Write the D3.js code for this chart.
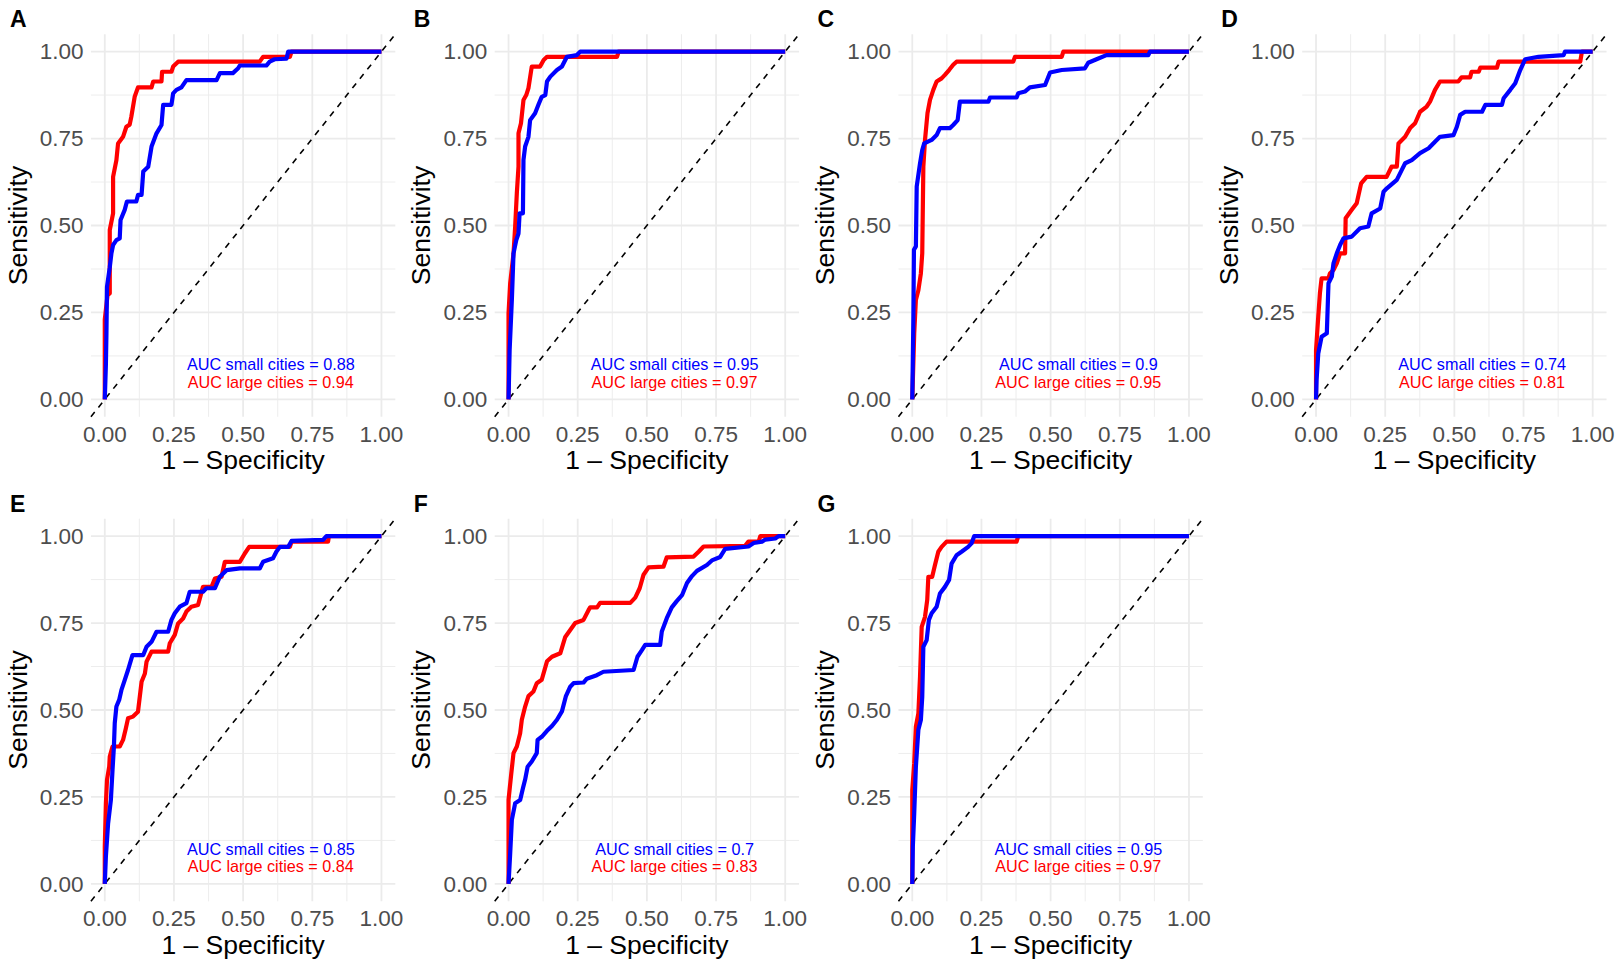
<!DOCTYPE html>
<html>
<head>
<meta charset="utf-8">
<script src="https://cdn.jsdelivr.net/npm/d3@7"></script>
<style>
body { margin: 0; background: #fff; }
text { font-family: "Liberation Sans", Arial, Helvetica, sans-serif; }
</style>
</head>
<body>
<div id="chart"></div>
<script>
// panel letters and AUC labels
var panelLetters = ["A", "B", "C", "D", "E", "F", "G"];
var aucSmall = ["0.88", "0.95", "0.9", "0.74", "0.85", "0.7", "0.95"];
var aucLarge = ["0.94", "0.97", "0.95", "0.81", "0.84", "0.83", "0.97"];
var tickValues = [0, 0.25, 0.5, 0.75, 1];
var tickLabels = ["0.00", "0.25", "0.50", "0.75", "1.00"];
var minorValues = [0.125, 0.375, 0.625, 0.875];

// ROC points: [1 - specificity, sensitivity]
var smallA = [[0,0],[0.004,0.1],[0.006,0.19],[0.008,0.324],[0.018,0.38],[0.024,0.42],[0.03,0.444],[0.042,0.458],[0.054,0.463],[0.057,0.516],[0.072,0.545],[0.08,0.569],[0.114,0.569],[0.12,0.588],[0.133,0.588],[0.139,0.655],[0.157,0.669],[0.169,0.727],[0.187,0.765],[0.205,0.789],[0.211,0.847],[0.241,0.847],[0.247,0.88],[0.259,0.89],[0.277,0.897],[0.295,0.918],[0.404,0.918],[0.416,0.938],[0.463,0.938],[0.482,0.952],[0.488,0.96],[0.584,0.96],[0.596,0.971],[0.614,0.978],[0.657,0.98],[0.663,1],[1,1]];
var largeA = [[0,0],[0,0.23],[0.01,0.3],[0.018,0.305],[0.018,0.487],[0.03,0.535],[0.03,0.64],[0.042,0.688],[0.048,0.736],[0.066,0.755],[0.078,0.784],[0.09,0.79],[0.096,0.813],[0.108,0.87],[0.12,0.897],[0.169,0.897],[0.175,0.914],[0.205,0.914],[0.207,0.942],[0.241,0.942],[0.247,0.957],[0.265,0.971],[0.56,0.971],[0.572,0.985],[0.669,0.985],[0.675,1],[1,1]];

var smallB = [[0,0],[0.004,0.142],[0.012,0.286],[0.018,0.42],[0.028,0.458],[0.036,0.477],[0.04,0.535],[0.052,0.535],[0.054,0.688],[0.06,0.727],[0.072,0.755],[0.078,0.803],[0.096,0.823],[0.108,0.847],[0.12,0.87],[0.133,0.875],[0.139,0.914],[0.151,0.928],[0.175,0.947],[0.193,0.957],[0.211,0.985],[0.247,0.99],[0.259,1],[1,1]];
var largeB = [[0,0],[0,0.247],[0.006,0.334],[0.018,0.42],[0.024,0.497],[0.03,0.593],[0.036,0.669],[0.036,0.765],[0.045,0.794],[0.054,0.861],[0.064,0.875],[0.072,0.895],[0.084,0.957],[0.114,0.957],[0.127,0.976],[0.139,0.985],[0.392,0.985],[0.398,1],[1,1]];

var smallC = [[0,0],[0.004,0.238],[0.006,0.43],[0.013,0.44],[0.016,0.612],[0.028,0.679],[0.036,0.717],[0.043,0.736],[0.07,0.746],[0.088,0.76],[0.1,0.78],[0.136,0.78],[0.148,0.789],[0.164,0.803],[0.172,0.856],[0.275,0.856],[0.281,0.868],[0.377,0.868],[0.383,0.88],[0.407,0.885],[0.425,0.897],[0.48,0.904],[0.498,0.94],[0.54,0.947],[0.624,0.952],[0.636,0.968],[0.666,0.978],[0.702,0.99],[0.853,0.99],[0.859,1],[1,1]];
var largeC = [[0,0],[0.007,0.19],[0.013,0.286],[0.022,0.314],[0.031,0.362],[0.036,0.42],[0.04,0.669],[0.046,0.746],[0.055,0.823],[0.064,0.861],[0.076,0.89],[0.088,0.914],[0.106,0.923],[0.118,0.933],[0.133,0.947],[0.148,0.962],[0.16,0.971],[0.365,0.971],[0.371,0.985],[0.54,0.985],[0.546,1],[1,1]];

var smallD = [[0,0],[0.002,0.056],[0.008,0.132],[0.02,0.18],[0.039,0.19],[0.045,0.334],[0.057,0.353],[0.063,0.391],[0.075,0.42],[0.087,0.444],[0.099,0.463],[0.129,0.468],[0.159,0.492],[0.189,0.497],[0.201,0.535],[0.232,0.549],[0.244,0.597],[0.256,0.607],[0.292,0.631],[0.31,0.66],[0.322,0.679],[0.346,0.688],[0.376,0.708],[0.407,0.722],[0.43,0.741],[0.448,0.755],[0.497,0.76],[0.509,0.784],[0.521,0.818],[0.539,0.827],[0.6,0.827],[0.612,0.847],[0.672,0.847],[0.678,0.866],[0.702,0.89],[0.72,0.909],[0.738,0.947],[0.756,0.978],[0.804,0.985],[0.895,0.99],[0.9,1],[1,1]];
var largeD = [[0,0],[0,0.142],[0.008,0.238],[0.014,0.305],[0.02,0.348],[0.045,0.348],[0.05,0.362],[0.063,0.372],[0.075,0.391],[0.087,0.42],[0.105,0.42],[0.107,0.521],[0.129,0.545],[0.147,0.564],[0.163,0.621],[0.183,0.64],[0.255,0.64],[0.273,0.669],[0.292,0.669],[0.298,0.736],[0.322,0.755],[0.34,0.78],[0.358,0.794],[0.376,0.827],[0.4,0.842],[0.412,0.856],[0.43,0.89],[0.448,0.914],[0.514,0.914],[0.526,0.926],[0.557,0.926],[0.562,0.942],[0.588,0.942],[0.594,0.954],[0.654,0.954],[0.66,0.971],[0.955,0.971],[0.961,1],[1,1]];

var smallE = [[0,0],[0.004,0.079],[0.012,0.174],[0.022,0.241],[0.028,0.328],[0.033,0.395],[0.036,0.462],[0.042,0.51],[0.052,0.529],[0.06,0.557],[0.072,0.586],[0.084,0.615],[0.1,0.658],[0.139,0.658],[0.151,0.682],[0.169,0.696],[0.187,0.725],[0.229,0.725],[0.241,0.759],[0.253,0.778],[0.271,0.797],[0.295,0.807],[0.307,0.84],[0.355,0.84],[0.367,0.85],[0.398,0.85],[0.416,0.883],[0.44,0.902],[0.488,0.907],[0.56,0.907],[0.572,0.926],[0.608,0.936],[0.62,0.955],[0.633,0.969],[0.663,0.969],[0.675,0.986],[0.789,0.989],[0.801,1],[1,1]];
var largeE = [[0,0],[0,0.107],[0.004,0.232],[0.008,0.299],[0.016,0.337],[0.018,0.366],[0.028,0.395],[0.054,0.395],[0.066,0.414],[0.076,0.447],[0.084,0.476],[0.102,0.481],[0.12,0.495],[0.133,0.581],[0.145,0.605],[0.151,0.639],[0.169,0.668],[0.229,0.668],[0.235,0.692],[0.253,0.716],[0.265,0.749],[0.283,0.763],[0.295,0.783],[0.313,0.797],[0.337,0.802],[0.355,0.854],[0.386,0.854],[0.398,0.878],[0.422,0.883],[0.434,0.926],[0.488,0.926],[0.506,0.95],[0.522,0.969],[0.669,0.969],[0.675,0.984],[0.807,0.984],[0.81,1],[1,1]];

var smallF = [[0,0],[0.006,0.088],[0.012,0.184],[0.024,0.232],[0.042,0.241],[0.052,0.275],[0.06,0.3],[0.069,0.337],[0.084,0.352],[0.102,0.376],[0.105,0.414],[0.12,0.423],[0.139,0.44],[0.157,0.454],[0.175,0.472],[0.193,0.496],[0.207,0.539],[0.223,0.567],[0.235,0.577],[0.271,0.579],[0.283,0.59],[0.319,0.6],[0.343,0.61],[0.452,0.615],[0.466,0.653],[0.482,0.672],[0.494,0.687],[0.548,0.687],[0.554,0.726],[0.572,0.764],[0.59,0.795],[0.608,0.813],[0.627,0.83],[0.645,0.865],[0.663,0.885],[0.681,0.9],[0.717,0.917],[0.735,0.93],[0.765,0.94],[0.783,0.963],[0.867,0.97],[0.886,0.98],[0.916,0.984],[0.928,0.99],[0.964,0.993],[0.976,1],[1,1]];
var largeF = [[0,0],[0,0.242],[0.01,0.318],[0.018,0.376],[0.03,0.395],[0.042,0.433],[0.048,0.472],[0.06,0.51],[0.072,0.54],[0.09,0.553],[0.102,0.577],[0.12,0.587],[0.139,0.64],[0.157,0.653],[0.187,0.663],[0.205,0.71],[0.223,0.73],[0.241,0.75],[0.271,0.759],[0.289,0.787],[0.295,0.795],[0.32,0.795],[0.331,0.808],[0.44,0.808],[0.458,0.823],[0.474,0.85],[0.488,0.889],[0.506,0.91],[0.56,0.912],[0.572,0.939],[0.669,0.941],[0.687,0.955],[0.705,0.97],[0.855,0.972],[0.867,0.984],[0.904,0.984],[0.91,1],[1,1]];

var smallG = [[0,0],[0.002,0.107],[0.007,0.203],[0.013,0.337],[0.022,0.443],[0.031,0.471],[0.036,0.538],[0.04,0.682],[0.052,0.701],[0.06,0.759],[0.07,0.778],[0.088,0.797],[0.1,0.835],[0.118,0.854],[0.133,0.874],[0.142,0.921],[0.16,0.945],[0.178,0.955],[0.202,0.969],[0.214,0.979],[0.224,1],[1,1]];
var largeG = [[0,0],[0,0.136],[0,0.27],[0.007,0.347],[0.013,0.452],[0.022,0.49],[0.028,0.596],[0.034,0.739],[0.046,0.768],[0.054,0.816],[0.058,0.883],[0.072,0.883],[0.082,0.917],[0.094,0.955],[0.106,0.969],[0.124,0.984],[0.377,0.984],[0.383,1],[1,1]];

var smallSeries = [smallA, smallB, smallC, smallD, smallE, smallF, smallG];
var largeSeries = [largeA, largeB, largeC, largeD, largeE, largeF, largeG];

// layout
var width = 1615,
    height = 969,
    cols = 4,
    panelW = width / 4,
    panelH = height / 2;

var svg = d3.select("#chart")
  .append("svg")
  .attr("width", width)
  .attr("height", height);

// panel scales (same for every panel), with ggplot-style 5% expansion
var x = d3.scaleLinear().domain([-0.05, 1.05]).range([90.95, 395.3]);
var y = d3.scaleLinear().domain([-0.05, 1.05]).range([416.8, 34.2]);

var line = d3.line()
  .x(function(d) { return x(d[0]); })
  .y(function(d) { return y(d[1]); });

panelLetters.forEach(function(letter, i) {
  var g = svg.append("g")
    .attr("transform", "translate(" + (i % cols) * panelW + "," + Math.floor(i / cols) * panelH + ")");

  // minor grid
  g.selectAll(".minor-x").data(minorValues).enter().append("line")
    .attr("x1", x).attr("x2", x).attr("y1", y.range()[0]).attr("y2", y.range()[1])
    .attr("stroke", "#ebebeb").attr("stroke-width", 0.9);
  g.selectAll(".minor-y").data(minorValues).enter().append("line")
    .attr("y1", y).attr("y2", y).attr("x1", x.range()[0]).attr("x2", x.range()[1])
    .attr("stroke", "#ebebeb").attr("stroke-width", 0.9);

  // major grid
  g.selectAll(".major-x").data(tickValues).enter().append("line")
    .attr("x1", x).attr("x2", x).attr("y1", y.range()[0]).attr("y2", y.range()[1])
    .attr("stroke", "#ebebeb").attr("stroke-width", 1.8);
  g.selectAll(".major-y").data(tickValues).enter().append("line")
    .attr("y1", y).attr("y2", y).attr("x1", x.range()[0]).attr("x2", x.range()[1])
    .attr("stroke", "#ebebeb").attr("stroke-width", 1.8);

  // chance diagonal
  g.append("line")
    .attr("x1", x(-0.05)).attr("y1", y(-0.05))
    .attr("x2", x(1.05)).attr("y2", y(1.05))
    .attr("stroke", "#000").attr("stroke-width", 1.6)
    .attr("stroke-dasharray", "6,6");

  // ROC curves: large (red) under small (blue)
  g.append("path")
    .datum(largeSeries[i])
    .attr("d", line)
    .attr("fill", "none").attr("stroke", "#ff0000")
    .attr("stroke-width", 4.2).attr("stroke-linejoin", "round");
  g.append("path")
    .datum(smallSeries[i])
    .attr("d", line)
    .attr("fill", "none").attr("stroke", "#0000ff")
    .attr("stroke-width", 4.2).attr("stroke-linejoin", "round");

  // tick labels
  g.selectAll(".ytick").data(tickValues).enter().append("text")
    .attr("x", 83.5).attr("y", y).attr("dy", "0.35em")
    .attr("text-anchor", "end")
    .style("font-size", "22.5px").style("fill", "#4d4d4d")
    .text(function(d, j) { return tickLabels[j]; });
  g.selectAll(".xtick").data(tickValues).enter().append("text")
    .attr("x", x).attr("y", 441.5)
    .attr("text-anchor", "middle")
    .style("font-size", "22.5px").style("fill", "#4d4d4d")
    .text(function(d, j) { return tickLabels[j]; });

  // axis titles
  g.append("text")
    .attr("x", (x.range()[0] + x.range()[1]) / 2).attr("y", 469)
    .attr("text-anchor", "middle")
    .style("font-size", "26.5px").style("fill", "#000")
    .text("1 \u2013 Specificity");
  g.append("text")
    .attr("transform", "translate(26.5," + (y.range()[0] + y.range()[1]) / 2 + ") rotate(-90)")
    .attr("text-anchor", "middle")
    .style("font-size", "26.5px").style("fill", "#000")
    .text("Sensitivity");

  // AUC annotations
  g.append("text")
    .attr("x", x(0.6)).attr("y", y(0.1)).attr("dy", "0.35em")
    .attr("text-anchor", "middle")
    .style("font-size", "16.2px").style("fill", "#0000ff")
    .text("AUC small cities = " + aucSmall[i]);
  g.append("text")
    .attr("x", x(0.6)).attr("y", y(0.05)).attr("dy", "0.35em")
    .attr("text-anchor", "middle")
    .style("font-size", "16.2px").style("fill", "#ff0000")
    .text("AUC large cities = " + aucLarge[i]);

  // panel letter
  g.append("text")
    .attr("x", 10).attr("y", 27.3)
    .style("font-size", "23px").style("font-weight", "bold").style("fill", "#000")
    .text(letter);
});
</script>
</body>
</html>
